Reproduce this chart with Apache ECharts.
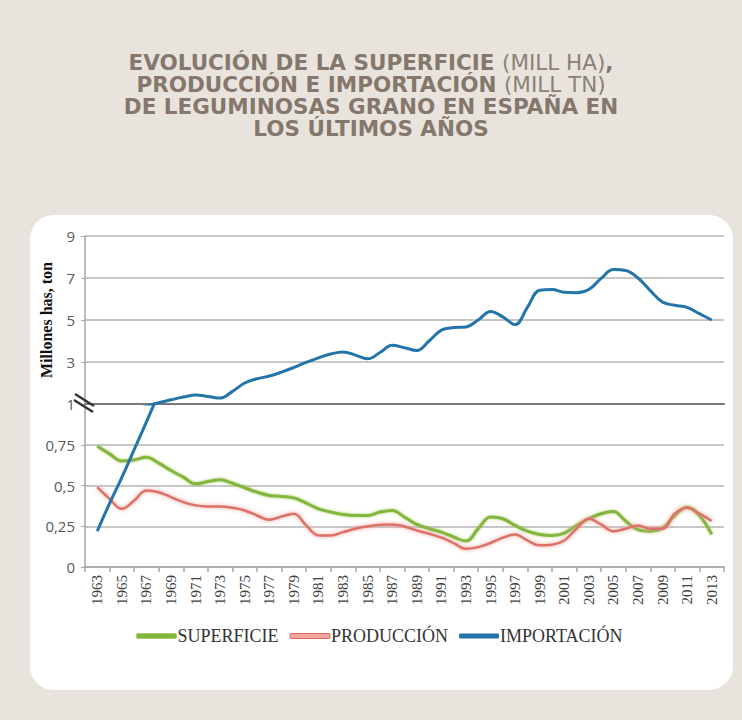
<!DOCTYPE html>
<html>
<head>
<meta charset="utf-8">
<script src="https://cdn.jsdelivr.net/npm/echarts@6/dist/echarts.min.js"></script>
<style>
html,body{margin:0;padding:0;background:#e8e4dd;}
#c{width:742px;height:720px;}
</style>
</head>
<body>
<div id="c"></div>
<script>
// Axis categories (ticks fall on even years, labels on odd years)
const axisYears = ['1962','1963','1964','1965','1966','1967','1968','1969','1970','1971','1972','1973','1974','1975','1976','1977','1978','1979','1980','1981','1982','1983','1984','1985','1986','1987','1988','1989','1990','1991','1992','1993','1994','1995','1996','1997','1998','1999','2000','2001','2002','2003','2004','2005','2006','2007','2008','2009','2010','2011','2012','2013','2014'];

// Data years
const years = ['1963','1964','1965','1966','1967','1968','1969','1970','1971','1972','1973','1974','1975','1976','1977','1978','1979','1980','1981','1982','1983','1984','1985','1986','1987','1988','1989','1990','1991','1992','1993','1994','1995','1996','1997','1998','1999','2000','2001','2002','2003','2004','2005','2006','2007','2008','2009','2010','2011','2012','2013'];

// Superficie (mill ha)
const superficie = [0.741,0.694,0.65,0.657,0.673,0.637,0.592,0.551,0.51,0.524,
  0.535,0.514,0.486,0.459,0.439,0.433,0.424,0.392,0.357,0.337,
  0.322,0.316,0.316,0.337,0.347,0.306,0.261,0.235,0.214,0.184,
  0.159,0.235,0.306,0.296,0.255,0.22,0.2,0.194,0.208,0.255,
  0.296,0.327,0.341,0.282,0.229,0.22,0.239,0.316,0.367,0.316,
  0.2];

// Producción (mill tn)
const produccion = [0.49,0.418,0.357,0.408,0.469,0.459,0.429,0.398,0.378,0.371,
  0.371,0.363,0.347,0.316,0.29,0.31,0.327,0.255,0.194,0.194,
  0.214,0.235,0.249,0.259,0.261,0.249,0.224,0.204,0.18,0.147,
  0.112,0.122,0.147,0.18,0.2,0.163,0.133,0.137,0.163,0.235,
  0.296,0.261,0.22,0.235,0.255,0.235,0.235,0.327,0.363,0.327,
  0.282];

// Importación (mill tn)
const importacion = [0.22,0.39,0.55,0.72,0.89,1.06,1.2,1.33,1.43,1.36,
  1.28,1.6,2.0,2.2,2.33,2.52,2.74,2.98,3.2,3.38,
  3.48,3.33,3.15,3.45,3.8,3.68,3.55,4.0,4.52,4.64,
  4.67,5.0,5.4,5.15,4.78,5.6,6.42,6.45,6.32,6.3,
  6.45,6.98,7.4,7.36,7.0,6.4,5.85,5.7,5.6,5.3,
  5.0];

// Tick values of the broken y axis
const upperTicks = [1,3,5,7,9];
const lowerTicks = [0,0.25,0.5,0.75,1];

const seriesNames = ['SUPERFICIE','PRODUCCIÓN','IMPORTACIÓN'];

// Title lines (rich-text markup: b = bold, l = light)
const titleLines = [
  '{b|EVOLUCIÓN DE LA SUPERFICIE} {l|(MILL HA)}{b|,}',
  '{b|PRODUCCIÓN E IMPORTACIÓN} {l|(MILL TN)}',
  '{b|DE LEGUMINOSAS GRANO EN ESPAÑA EN}',
  '{b|LOS ÚLTIMOS AÑOS}'
];

const pairs = arr => years.map((y,i)=>[y, arr[i]]);
const fmt = v => String(v).replace('.', ',');

const chart = echarts.init(document.getElementById('c'), null, {renderer:'svg'});

const titleFont = "'DejaVu Sans',sans-serif";
const serif = "'Liberation Serif','Times New Roman',serif";
const gridColor = '#b4b4b4';
const axisColor = '#a6a6a6';

const titleRich = {
  b:{fontFamily:titleFont, fontWeight:'bold', fontSize:21.5, lineHeight:22, color:'#85776b'},
  l:{fontFamily:titleFont, fontWeight:'normal', fontSize:21.5, lineHeight:22, color:'#8c8076'}
};

const catAxisBase = {type:'category', data: axisYears, boundaryGap:false};

const cardRect = {type:'rect', z:-10, silent:true, shape:{x:30, y:215, width:703, height:475, r:24}, style:{fill:'#ffffff'}};

const option = {
  backgroundColor:'#e8e4dd',
  animation:false,
  title:{
    left:'center', top:51, padding:0,
    text:titleLines.join('\n'),
    textStyle:{fontFamily:titleFont, fontSize:21.5, lineHeight:22, color:'#85776b', rich:titleRich}
  },
  graphic:[cardRect],
  legend:{
    data:[
      {name:seriesNames[0], icon:'roundRect', itemStyle:{color:'#84b53e', borderColor:'#a6cf6a', borderWidth:1}},
      {name:seriesNames[1], icon:'roundRect', itemStyle:{color:'#f0a79f', borderColor:'#d9685e', borderWidth:1}},
      {name:seriesNames[2], icon:'roundRect', itemStyle:{color:'#2274aa', borderWidth:0}}
    ],
    top:622, left:131,
    itemWidth:40, itemHeight:5, itemGap:11,
    textStyle:{fontFamily:serif, fontSize:18, color:'#333333', padding:[0,0,0,-4]}
  },
  grid:[
    {left:85, right:18, top:236, height:168},
    {left:85, right:18, top:404, height:163}
  ],
  xAxis:[
    Object.assign({}, catAxisBase, {
      gridIndex:0,
      axisLine:{show:true, lineStyle:{color:'#7a7a7a', width:2}},
      axisTick:{show:false}, axisLabel:{show:false}, splitLine:{show:false}
    }),
    Object.assign({}, catAxisBase, {
      gridIndex:1,
      axisLine:{show:true, lineStyle:{color:axisColor, width:1.5}},
      axisTick:{show:true, interval:(i)=> i%2===0, length:5, lineStyle:{color:axisColor, width:1.5}},
      axisLabel:{interval:(i)=> i%2===1, rotate:90, margin:8, fontFamily:serif, fontSize:15, color:'#404040'},
      splitLine:{show:false}
    })
  ],
  yAxis:[
    {
      gridIndex:0, type:'value',
      min:upperTicks[0], max:upperTicks[upperTicks.length-1], interval:upperTicks[1]-upperTicks[0],
      name:'Millones has, ton', nameLocation:'middle', nameGap:31,
      nameTextStyle:{fontFamily:serif, fontWeight:'bold', fontSize:16, color:'#111111'},
      axisLine:{show:true, lineStyle:{color:axisColor, width:1.5}},
      axisTick:{show:true, length:4, lineStyle:{color:axisColor}},
      axisLabel:{fontFamily:"'Open Sans',sans-serif", fontSize:15, color:'#595959', margin:10, formatter:fmt},
      splitLine:{show:true, lineStyle:{color:gridColor, width:1.5}}
    },
    {
      gridIndex:1, type:'value',
      min:lowerTicks[0], max:lowerTicks[lowerTicks.length-1], interval:lowerTicks[1]-lowerTicks[0],
      axisLine:{show:true, lineStyle:{color:axisColor, width:1.5}},
      axisTick:{show:true, length:4, lineStyle:{color:axisColor}},
      axisLabel:{fontFamily:"'Open Sans',sans-serif", fontSize:15, color:'#595959', margin:10, formatter:fmt, showMaxLabel:false},
      splitLine:{show:true, lineStyle:{color:gridColor, width:1.5}}
    }
  ],
  series:[
    {
      name:seriesNames[0], type:'line', xAxisIndex:1, yAxisIndex:1,
      data:pairs(superficie), smooth:0.4, symbol:'none', clip:true, z:2,
      itemStyle:{color:'#84b53e'},
      lineStyle:{color:'#84b53e', width:3, shadowColor:'rgba(165,205,100,0.9)', shadowBlur:3}
    },
    {
      name:seriesNames[1], type:'line', xAxisIndex:1, yAxisIndex:1,
      data:pairs(produccion), smooth:0.4, symbol:'none', clip:true, z:3,
      itemStyle:{color:'#d9685e'},
      lineStyle:{color:'#dd7067', width:2.5, shadowColor:'rgba(240,160,150,1)', shadowBlur:4}
    },
    {
      name:seriesNames[2], type:'line', xAxisIndex:1, yAxisIndex:1,
      data:pairs(importacion), smooth:0.4, symbol:'none', clip:true, z:4,
      itemStyle:{color:'#2274aa'},
      lineStyle:{color:'#2274aa', width:3}
    },
    {
      name:seriesNames[2], type:'line', xAxisIndex:0, yAxisIndex:0,
      data:pairs(importacion), smooth:0.4, symbol:'none', clip:true, z:4,
      itemStyle:{color:'#2274aa'},
      lineStyle:{color:'#2274aa', width:3}
    }
  ]
};

chart.setOption(option);

// Axis-break marks, placed from the axis's own pixel mapping
const p = chart.convertToPixel({xAxisIndex:0, yAxisIndex:0}, [axisYears[0], upperTicks[0]]);
chart.setOption({
  graphic:[
    cardRect,
    {type:'line', z:50, silent:true, shape:{x1:p[0]-10, y1:p[1]-10, x2:p[0]+9, y2:p[1]+2}, style:{stroke:'#333333', lineWidth:2.5}},
    {type:'line', z:50, silent:true, shape:{x1:p[0]-11, y1:p[1]-4, x2:p[0]+8, y2:p[1]+8}, style:{stroke:'#333333', lineWidth:2.5}}
  ]
});
</script>
</body>
</html>
